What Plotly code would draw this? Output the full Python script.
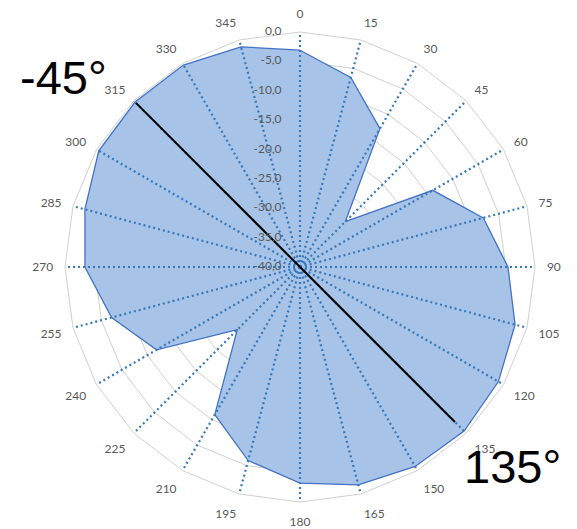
import plotly.graph_objects as go

# Directions (degrees) and measured level (dB) at each direction
angles = ["0", "15", "30", "45", "60", "75", "90", "105", "120", "135", "150", "165",
          "180", "195", "210", "225", "240", "255", "270", "285", "300", "315", "330", "345"]
levels = [-3.1, -6.6, -12.8, -29.1, -13.9, -7.7, -4.6, -2.1, -1.0, -0.5, -0.8, -1.6,
          -3.2, -5.9, -11.0, -24.9, -11.8, -6.8, -3.4, -2.1, -0.45, -0.3, -0.3, -1.2]

# Radial scale ticks
radial_ticks = [0, -5, -10, -15, -20, -25, -30, -35, -40]
radial_ticktext = ["0,0", "-5,0", "-10,0", "-15,0", "-20,0", "-25,0", "-30,0", "-35,0", "-40,0"]

# Main axis line across the pattern (-45° to 135°)
axis_theta = ["315", "0", "135"]
axis_r = [-0.5, -40, -2.7]

r_min, r_max = -40, 0

fig = go.Figure()

fig.add_trace(go.Scatterpolar(
    r=levels + [levels[0]],
    theta=angles + [angles[0]],
    mode="lines",
    fill="toself",
    fillcolor="rgb(167,196,232)",
    line=dict(color="rgb(68,114,196)", width=1.3),
    hoverinfo="skip",
))

# Dotted spokes drawn over the fill
spoke_r, spoke_t = [], []
for a in angles:
    spoke_r += [r_min, r_max, None]
    spoke_t += [a, a, None]
fig.add_trace(go.Scatterpolar(
    r=spoke_r, theta=spoke_t, mode="lines",
    line=dict(color="rgb(54,120,186)", width=2.2, dash="2px,3px"),
    connectgaps=False, hoverinfo="skip",
))

fig.add_trace(go.Scatterpolar(
    r=axis_r, theta=axis_theta, mode="lines",
    line=dict(color="black", width=2),
    hoverinfo="skip",
))

# Radial scale labels on an overlaid polar with a numeric angular axis,
# right-aligned just left of the 0° spoke
pad = "\u00a0" * 6
fig.add_trace(go.Scatterpolar(
    r=radial_ticks, theta=[0] * len(radial_ticks),
    mode="text", text=[t + pad for t in radial_ticktext],
    textposition="middle left",
    textfont=dict(family="Lato", size=12, color="#595959"),
    cliponaxis=False,
    hoverinfo="skip",
    subplot="polar2",
))

W, H = 577, 529
cx, cy, R = 300, 267, 235
domain = dict(x=[(cx - R) / W, (cx + R) / W], y=[1 - (cy + R) / H, 1 - (cy - R) / H])

fig.update_layout(
    width=W, height=H,
    margin=dict(l=0, r=0, t=0, b=0),
    paper_bgcolor="white",
    showlegend=False,
    font=dict(family="Lato", size=12, color="#595959"),
    polar=dict(
        domain=domain,
        bgcolor="white",
        gridshape="linear",
        angularaxis=dict(
            type="category",
            categoryorder="array",
            categoryarray=angles,
            rotation=90,
            direction="clockwise",
            showgrid=False,
            showline=True,
            linecolor="#D0D0D0",
            linewidth=1,
            ticks="outside",
            ticklen=9,
            tickcolor="rgba(0,0,0,0)",
            tickfont=dict(size=12, color="#595959"),
        ),
        radialaxis=dict(
            range=[r_min, r_max],
            angle=90,
            tickvals=radial_ticks,
            showticklabels=False,
            showline=False,
            ticks="",
            gridcolor="#D0D0D0",
            gridwidth=1,
        ),
    ),
    polar2=dict(
        domain=domain,
        bgcolor="rgba(0,0,0,0)",
        angularaxis=dict(
            rotation=90, direction="clockwise",
            showgrid=False, showline=False, showticklabels=False, ticks="",
        ),
        radialaxis=dict(
            range=[r_min, r_max], angle=90,
            showgrid=False, showline=False, showticklabels=False, ticks="",
        ),
    ),
    annotations=[
        dict(text="-45°", x=63 / W, y=1 - 78 / H, xref="paper", yref="paper",
             xanchor="center", yanchor="middle",
             showarrow=False, font=dict(family="Arial", size=47, color="black")),
        dict(text="135°", x=512 / W, y=1 - 466 / H, xref="paper", yref="paper",
             xanchor="center", yanchor="middle",
             showarrow=False, font=dict(family="Arial", size=47, color="black")),
    ],
)

fig.write_html("out.html")
